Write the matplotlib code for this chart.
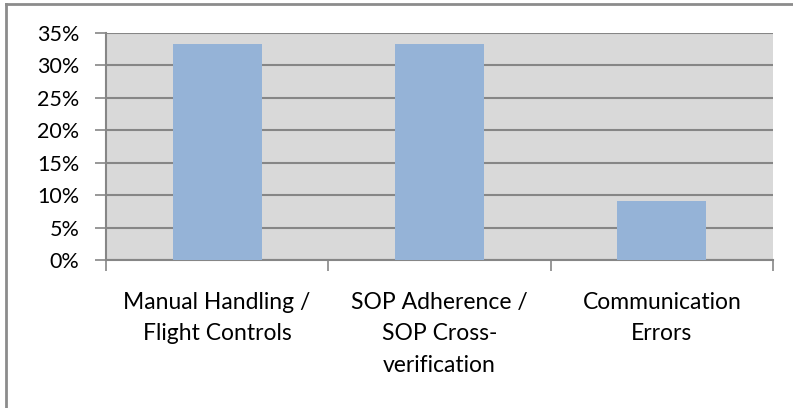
import matplotlib
matplotlib.use('Agg')
import matplotlib.pyplot as plt
from matplotlib.lines import Line2D
from matplotlib.ticker import FuncFormatter

plt.rcParams['font.family'] = ['Lato', 'DejaVu Sans']

categories = ['Manual Handling /\nFlight Controls',
              'SOP Adherence /\nSOP Cross-\nverification',
              'Communication\nErrors']
values = [33.3, 33.3, 9.1]
yticks = [0, 5, 10, 15, 20, 25, 30, 35]

W, H = 793, 408
fig = plt.figure(figsize=(W / 100, H / 100), dpi=100)
ax = fig.add_axes([106 / W, 1 - 260 / H, (773 - 106) / W, (260 - 33) / H])

ax.set_facecolor('#D9D9D9')
x = range(len(categories))
ax.bar(x, values, width=0.4, color='#95B3D7', zorder=3)

ax.set_xlim(-0.5, len(categories) - 0.5)
ax.set_ylim(0, 35)
ax.set_yticks(yticks)
ax.yaxis.set_major_formatter(FuncFormatter(lambda v, p: f'{v:.0f}%'))
ax.grid(axis='y', color='#868686', linewidth=1.5, zorder=1)
ax.set_axisbelow(True)

# category boundaries carry the ticks, labels sit in the middle
ax.set_xticks([i - 0.5 for i in range(len(categories) + 1)])
ax.set_xticklabels([])
ax.set_xticks(list(x), minor=True)
ax.set_xticklabels(categories, minor=True, fontsize=16.5, linespacing=1.62)
ax.tick_params(axis='x', which='major', length=8, width=1.2, color='#868686')
ax.tick_params(axis='x', which='minor', length=0, pad=23)
ax.tick_params(axis='y', length=8, width=1.2, color='#868686', labelsize=15.5, pad=11)
for lbl in ax.get_xticklabels(minor=True):
    lbl.set_verticalalignment('top')

for s in ('top', 'right'):
    ax.spines[s].set_visible(False)
for s in ('left', 'bottom'):
    ax.spines[s].set_color('#868686')
    ax.spines[s].set_linewidth(1.5)

# outer chart frame (only left and top edges show in the crop)
fig.add_artist(Line2D([5.5 / W, 5.5 / W], [0, 1 - 4 / H], color='#8C8C8C', lw=2))
fig.add_artist(Line2D([5.5 / W, 1], [1 - 4 / H, 1 - 4 / H], color='#8C8C8C', lw=2))

fig.savefig('out.png', dpi=100)
plt.close()
